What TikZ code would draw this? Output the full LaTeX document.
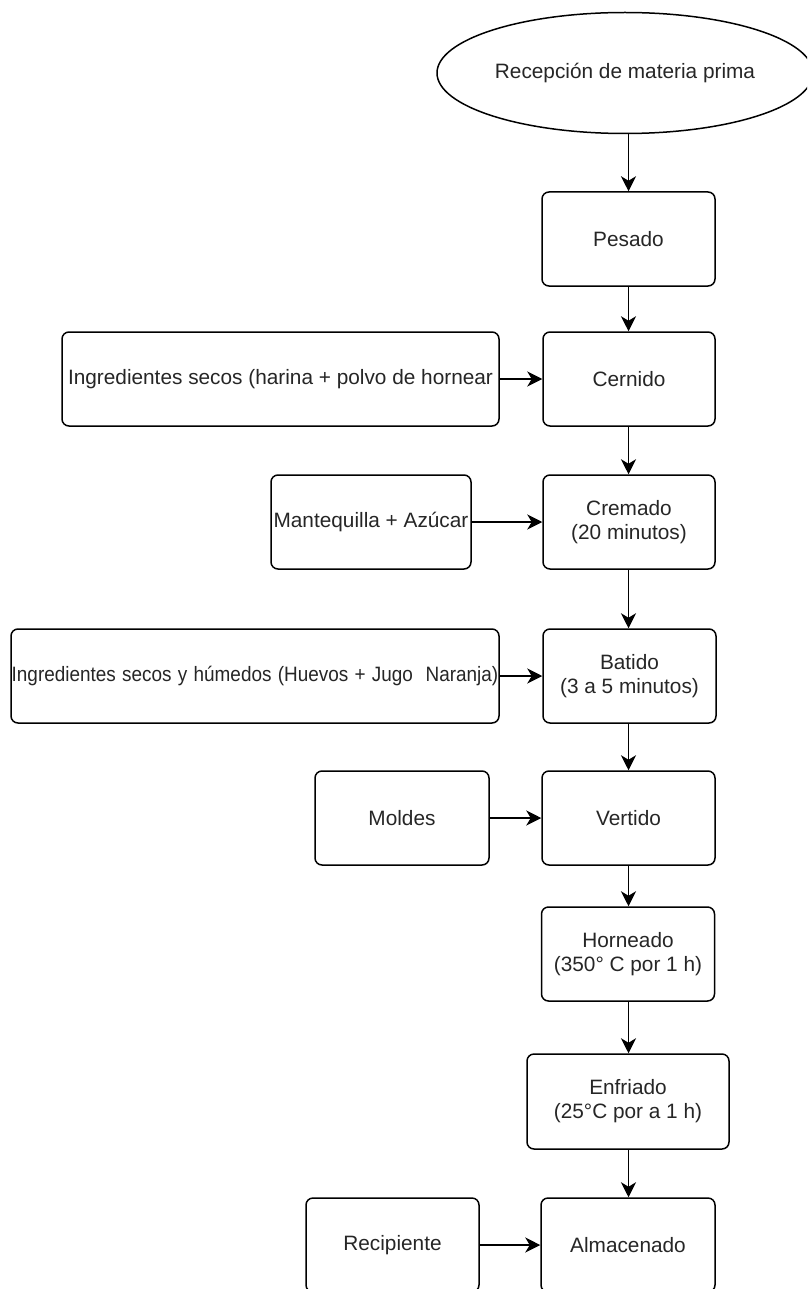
\documentclass[tikz,border=0pt]{standalone}
\usepackage{fontspec}
\usepackage{graphicx}
\setmainfont{Liberation Sans}
\usetikzlibrary{shapes.geometric,arrows.meta}
\begin{document}
\begin{tikzpicture}[x=1pt,y=-1pt,
  every node/.style={font=\fontsize{20.8}{24}\selectfont, text=black!85, align=center, inner sep=0pt},
  stepbox/.style={draw, line width=1.5pt, rounded corners=7pt},
  arr/.style={draw, line width=1.5pt, -{Stealth[length=15pt,width=15pt,inset=4.5pt]}}]
\clip (0,0) rectangle (807,1289);
\fill[white] (0,0) rectangle (807,1289);
\node[draw, line width=1.5pt, ellipse, minimum width=376pt, minimum height=121pt] (ell) at (625,73) {Recepción de materia prima};
\node[stepbox, minimum width=173pt, minimum height=94pt] (pes) at (628.5,239) {Pesado};
\node[stepbox, minimum width=172pt, minimum height=94pt] (cer) at (629,379) {Cernido};
\node[stepbox, minimum width=437pt, minimum height=94pt] (ing1) at (280.5,379) {Ingredientes secos (harina + polvo de hornear};
\node[stepbox, minimum width=172pt, minimum height=94pt] (cre) at (629,522) {Cremado\\(20 minutos)};
\node[stepbox, minimum width=200pt, minimum height=94pt] (man) at (371,522) {Mantequilla + Azúcar};
\node[stepbox, minimum width=173pt, minimum height=94pt] (bat) at (629.5,676) {Batido\\(3 a 5 minutos)};
\node[stepbox, text width=488pt, minimum height=94pt] (ing2) at (255,676) {\scalebox{0.91}[1]{Ingredientes secos y húmedos (Huevos + Jugo\ \ Naranja)}};
\node[stepbox, minimum width=173pt, minimum height=94pt] (ver) at (628.5,818) {Vertido};
\node[stepbox, minimum width=174pt, minimum height=94pt] (mol) at (402,818) {Moldes};
\node[stepbox, minimum width=173pt, minimum height=94pt] (hor) at (628,954) {Horneado\\(350° C por 1 h)};
\node[stepbox, minimum width=202pt, minimum height=95pt] (enf) at (628,1101.5) {Enfriado\\(25°C por a 1 h)};
\node[stepbox, minimum width=174pt, minimum height=94pt] (alm) at (628,1245) {Almacenado};
\node[stepbox, minimum width=173pt, minimum height=94pt] (rec) at (392.5,1245) {Recipiente};
% vertical connectors
\draw[arr] (ell.south -| pes.north) -- (pes.north);
\draw[arr] (pes.south) -- (cer.north -| pes.south);
\draw[arr] (cer.south -| pes.south) -- (cre.north -| pes.south);
\draw[arr] (cre.south -| pes.south) -- (bat.north -| pes.south);
\draw[arr] (bat.south -| pes.south) -- (ver.north -| pes.south);
\draw[arr] (ver.south -| pes.south) -- (hor.north -| pes.south);
\draw[arr] (hor.south -| pes.south) -- (enf.north -| pes.south);
\draw[arr] (enf.south -| pes.south) -- (alm.north -| pes.south);
% horizontal connectors
\draw[arr] (ing1.east) -- (cer.west);
\draw[arr] (man.east) -- (cre.west);
\draw[arr] (ing2.east) -- (bat.west);
\draw[arr] (mol.east) -- (ver.west);
\draw[arr] (rec.east) -- (alm.west);
\end{tikzpicture}
\end{document}
